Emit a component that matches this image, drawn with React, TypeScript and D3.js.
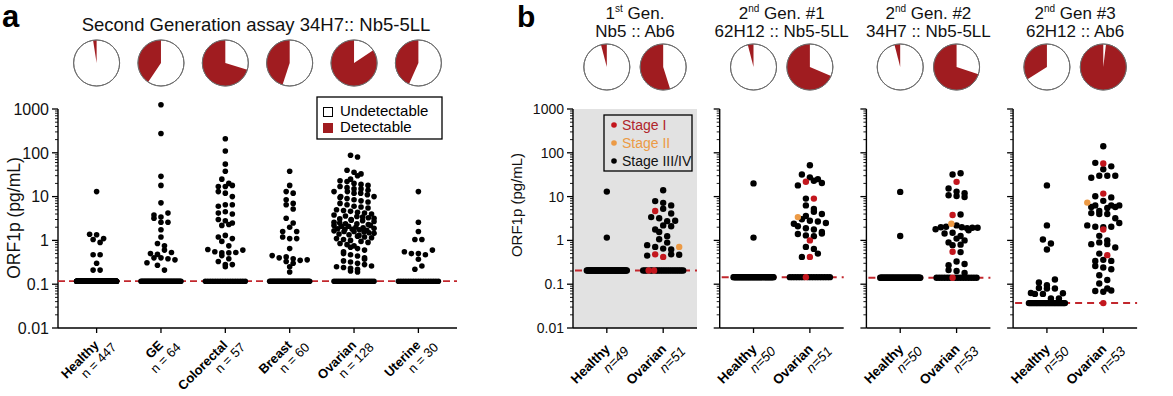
import React from "react";
import * as d3 from "d3";

const FONT = "'Liberation Sans', Arial, Helvetica, sans-serif";
const DARK_RED = "#a01c20";
const STAGE1 = "#c3161d";
const STAGE2 = "#ec9a45";
const LOD_COLOR = "#c2272d";
const GRAY_BG = "#e2e2e2";

// ---------- Panel a data ----------
const catsA = ["Healthy", "GE", "Colorectal", "Breast", "Ovarian", "Uterine"];
const nA = [447, 64, 57, 60, 128, 30];
const lodA = 0.117;
const healthyA = [13, 1.38, 1.35, 1.1, 1.05, 0.9, 0.47, 0.47, 0.3, 0.21, 0.21];
const geA = [1250, 275, 29, 18, 7.2, 4.2, 3.8, 3.4, 3.2, 2.6, 2.6, 1.75, 1.2, 0.85, 0.75, 0.6, 0.53, 0.5, 0.48, 0.4, 0.4, 0.38, 0.36, 0.31, 0.27, 0.21];
const colorectalA = [210, 110, 55, 38, 25, 20, 17, 17, 18, 13, 12, 10, 6, 6.5, 6.5, 4.5, 4, 4.2, 3, 2.8, 2.2, 2.3, 2.5, 1.2, 1.3, 1.1, 0.95, 0.75, 0.6, 0.62, 0.55, 0.52, 0.52, 0.53, 0.45, 0.38, 0.33, 0.28, 0.28, 0.25];
const breastA = [38, 18, 13, 12, 8.5, 7, 6.5, 5.2, 3.2, 2.5, 2, 1.6, 1.6, 1.2, 1.1, 1.1, 0.65, 0.45, 0.4, 0.42, 0.38, 0.35, 0.36, 0.33, 0.3, 0.25, 0.19];
const ovarianA = [
  88, 80, 40, 36, 33, 30,
  25, 23, 22, 20, 19, 18, 17, 16, 15, 15,
  14, 13, 13, 12, 12, 11, 10, 10, 9.5, 9, 8.5, 8,
  7.5, 7, 6.5, 6, 5.8, 5.5, 5, 4.8, 4.6, 4.4, 4.2, 4,
  3.8, 3.6, 3.5, 3.4, 3.3, 3.2, 3.1, 3, 2.9, 2.8, 2.7, 2.6, 2.5, 2.4, 2.4, 2.3, 2.2, 2.2, 2.1, 2.1, 2,
  1.95, 1.9, 1.85, 1.8, 1.8, 1.75, 1.7, 1.65, 1.6, 1.6, 1.55, 1.5, 1.45, 1.4, 1.35, 1.3, 1.25, 1.2, 1.15, 1.1, 1.05, 1.0,
  0.95, 0.9, 0.85, 0.8, 0.75, 0.7, 0.65, 0.6, 0.55, 0.5,
  0.47, 0.44, 0.4, 0.37, 0.34, 0.32, 0.3, 0.28, 0.26, 0.25, 0.24, 0.23, 0.22, 0.2, 0.19,
];
const uterineA = [13, 2.6, 1.6, 1.05, 1.05, 0.6, 0.55, 0.5, 0.5, 0.47, 0.37, 0.26, 0.22];
const detectA = [healthyA, geA, colorectalA, breastA, ovarianA, uterineA];

// ---------- Panel b data ----------
const assayOrd = ["1", "2", "2", "2"];
const assaySup = ["st", "nd", "nd", "nd"];
const assayRest = [" Gen.", " Gen. #1", " Gen. #2", " Gen #3"];
const assayPair = ["Nb5 :: Ab6", "62H12 :: Nb5-5LL", "34H7 :: Nb5-5LL", "62H12 :: Ab6"];
const lodB = [0.206, 0.145, 0.14, 0.037];
const healthyNB = [49, 50, 50, 50];
const ovarianNB = [51, 51, 53, 53];
const ovarianBaselineStageI = [2, 1, 1, 1];

const healthyB1 = [13, 1.16];
const ovB1StageI = [4.7, 0.48, 0.42];
const ovB1StageII = [0.71];
const ovB1StageIII = [14, 7.9, 7.2, 6.3, 5.3, 4.1, 3.4, 3.2, 2.75, 2.8, 2.2, 2.1, 1.78, 1.56, 1.25, 1.06, 0.89, 0.78, 0.71, 0.65, 0.62, 0.48, 0.47, 0.45];

const healthyB2 = [20, 1.16];
const ovB2StageI = [21.8, 9, 1.0, 0.42];
const ovB2StageII = [3.4];
const ovB2StageIII = [52, 32, 27.5, 25, 23, 20.5, 18, 9, 6.3, 5.2, 4.5, 4, 3.6, 3.05, 2.8, 2.7, 2.5, 2.4, 2.1, 1.9, 1.78, 1.56, 1.44, 1.4, 1.3, 1.25, 0.71, 0.64, 0.5, 0.42];

const healthyB3 = [12.8, 1.26];
const ovB3StageI = [21.7, 3.8, 0.55];
const ovB3StageII = [2.4];
const ovB3StageIII = [32, 34, 15.3, 13, 12, 9.8, 10.7, 10.3, 3.9, 2.0, 1.95, 1.95, 2.0, 2.05, 2.2, 1.9, 1.7, 1.8, 1.44, 1.5, 1.26, 1.1, 1.0, 0.9, 0.78, 0.8, 0.54, 0.33, 0.29, 0.27, 0.21, 0.2, 0.18];

const healthyB4 = [18, 2.2, 1.05, 0.85, 0.62, 0.128, 0.11, 0.095, 0.082, 0.08, 0.08, 0.062, 0.06, 0.063, 0.06, 0.047, 0.047];
const ovB4StageI = [57, 11.7, 1.78, 0.46];
const ovB4StageII = [7.3];
const ovB4StageIII = [141, 59, 49, 42, 30, 30, 27, 30, 10.2, 9.6, 8, 6.3, 5.8, 5.5, 6.3, 5.8, 6.3, 4.2, 4.7, 4.0, 4.0, 3.2, 2.5, 2.2, 2.05, 2.0, 2.05, 1.27, 1.0, 0.82, 0.9, 0.82, 0.69, 0.5, 0.34, 0.36, 0.34, 0.26, 0.24, 0.22, 0.16, 0.125, 0.104, 0.08, 0.067, 0.072, 0.07];

const healthyB = [healthyB1, healthyB2, healthyB3, healthyB4];
const ovStageI = [ovB1StageI, ovB2StageI, ovB3StageI, ovB4StageI];
const ovStageII = [ovB1StageII, ovB2StageII, ovB3StageII, ovB4StageII];
const ovStageIII = [ovB1StageIII, ovB2StageIII, ovB3StageIII, ovB4StageIII];

const yTickValues = [0.01, 0.1, 1, 10, 100, 1000];
const yTickLabels = ["0.01", "0.1", "1", "10", "100", "1000"];

type Item = { v: number; fill: string };
type Pt = { x: number; y: number; fill: string };

function swarm(items: Item[], y: (v: number) => number, cx: number, diam: number, maxHalf: number): Pt[] {
  const pts = items.map((d, i) => ({ ...d, i, py: y(d.v) })).sort((a, b) => a.py - b.py);
  const rows: typeof pts[] = [];
  let cur: typeof pts = [];
  let start = -Infinity;
  for (const p of pts) {
    if (cur.length && p.py - start < diam * 0.9) cur.push(p);
    else {
      if (cur.length) rows.push(cur);
      cur = [p];
      start = p.py;
    }
  }
  if (cur.length) rows.push(cur);
  const out: Pt[] = [];
  for (const row of rows) {
    const k = row.length;
    row.sort((a, b) => ((a.i * 37) % 17) - ((b.i * 37) % 17));
    const spacing = k > 1 ? Math.min(diam * 1.25, (2 * maxHalf) / (k - 1)) : 0;
    row.forEach((p, j) => out.push({ x: cx + (j - (k - 1) / 2) * spacing, y: p.py, fill: p.fill }));
  }
  return out;
}

function baseline(m: number, colored: number, firstFrac: number, color: string, lodY: number, cx: number, maxHalf: number): Pt[] {
  const out: Pt[] = [];
  const step = m > 1 ? (2 * maxHalf) / (m - 1) : 0;
  const coloredIdx = new Set<number>();
  for (let c = 0; c < colored; c++) coloredIdx.add(Math.floor((m - 1) * (firstFrac + c * 0.13)));
  for (let i = 0; i < m; i++) {
    out.push({ x: m > 1 ? cx - maxHalf + i * step : cx, y: lodY, fill: coloredIdx.has(i) ? color : "#000" });
  }
  return out;
}

function YAxis({ x, y, labels, fontSize }: { x: number; y: d3.ScaleLogarithmic<number, number>; labels: boolean; fontSize: number }) {
  const ticks = y.ticks();
  return (
    <g>
      <line x1={x} x2={x} y1={y(1000)} y2={y(0.01)} stroke="#000" strokeWidth={1.4} />
      {ticks.map((t, i) => {
        const lg = Math.log10(t);
        const major = Math.abs(lg - Math.round(lg)) < 1e-6;
        return (
          <line key={i} x1={x - (major ? 6 : 3)} x2={x} y1={y(t)} y2={y(t)} stroke="#000" strokeWidth={major ? 1.3 : 0.9} />
        );
      })}
      {labels &&
        yTickValues.map((t, i) => (
          <text key={"l" + i} x={x - 9} y={y(t)} dy="0.36em" textAnchor="end" fontSize={fontSize} fill="#111">
            {yTickLabels[i]}
          </text>
        ))}
    </g>
  );
}

function Pie({ cx, cy, r, frac }: { cx: number; cy: number; r: number; frac: number }) {
  const arc = d3.arc<any>();
  const path = arc({ innerRadius: 0, outerRadius: r, startAngle: -2 * Math.PI * frac, endAngle: 0 }) || "";
  return (
    <g transform={`translate(${cx},${cy})`}>
      <circle r={r} fill="#fff" stroke="#6e6e6e" strokeWidth={1} />
      <path d={path} fill={DARK_RED} />
      <circle r={r} fill="none" stroke="#6e6e6e" strokeWidth={1} />
    </g>
  );
}

function Dots({ pts, r }: { pts: Pt[]; r: number }) {
  const black = pts.filter((p) => p.fill === "#000");
  const col = pts.filter((p) => p.fill !== "#000");
  return (
    <g>
      {black.map((p, i) => (
        <circle key={"b" + i} cx={p.x} cy={p.y} r={r} fill={p.fill} />
      ))}
      {col.map((p, i) => (
        <circle key={"c" + i} cx={p.x} cy={p.y} r={r} fill={p.fill} />
      ))}
    </g>
  );
}

function PanelA() {
  const y = d3.scaleLog().domain([0.01, 1000]).range([328, 109]);
  const x = d3.scalePoint<string>().domain(catsA).range([58, 457]).padding(0.6);
  const r = 2.8;
  return (
    <g>
      <text x={2} y={27} fontSize={31} fontWeight="bold">a</text>
      <text x={256} y={31} fontSize={18.5} textAnchor="middle" fill="#111">Second Generation assay 34H7:: Nb5-5LL</text>
      {catsA.map((c, i) => (
        <Pie key={c} cx={x(c)!} cy={63} r={23} frac={detectA[i].length / nA[i]} />
      ))}
      <text transform={`translate(20,218) rotate(-90)`} textAnchor="middle" fontSize={17.5} fill="#111">ORF1p (pg/mL)</text>
      <YAxis x={58} y={y} labels={true} fontSize={16} />
      <line x1={58} x2={457} y1={328} y2={328} stroke="#000" strokeWidth={1.4} />
      {catsA.map((c) => (
        <line key={"t" + c} x1={x(c)!} x2={x(c)!} y1={328} y2={333} stroke="#000" strokeWidth={1.3} />
      ))}
      <line x1={58} x2={457} y1={y(lodA)} y2={y(lodA)} stroke={LOD_COLOR} strokeWidth={1.8} strokeDasharray="7,4" />
      {catsA.map((c, i) => {
        const cx = x(c)!;
        const items = detectA[i].map((v) => ({ v, fill: "#000" }));
        const pts = [...baseline(nA[i] - detectA[i].length, 0, 0, "#000", y(lodA), cx, 20), ...swarm(items, y, cx, 2 * r, 20)];
        return <Dots key={"d" + c} pts={pts} r={r} />;
      })}
      {catsA.map((c, i) => (
        <g key={"xl" + c} transform={`translate(${x(c)! + 3},${346}) rotate(-45)`}>
          <text textAnchor="end" fontSize={13} fontWeight="bold">{c}</text>
          <text textAnchor="end" x={11} y={14} fontSize={13}>{`n = ${nA[i]}`}</text>
        </g>
      ))}
      <rect x={317} y={97} width={125} height={42} fill="#fff" stroke="#000" strokeWidth={1.3} />
      <rect x={323.5} y={107.5} width={9} height={9} fill="#fff" stroke="#000" strokeWidth={1} />
      <text x={340} y={116} fontSize={15}>Undetectable</text>
      <rect x={323} y={123} width={10} height={10} fill={DARK_RED} />
      <text x={340} y={132} fontSize={15}>Detectable</text>
    </g>
  );
}

function PanelB() {
  const y = d3.scaleLog().domain([0.01, 1000]).range([328, 109]);
  const r = 3.2;
  const groups = ["Healthy", "Ovarian"];
  return (
    <g>
      <text x={517} y={27} fontSize={30} fontWeight="bold">b</text>
      <text transform={`translate(522,205) rotate(-90)`} textAnchor="middle" fontSize={15} fill="#111">ORF1p (pg/mL)</text>
      {assayPair.map((pair, i) => {
        const x0 = 573 + i * 146.7;
        const x = d3.scalePoint<string>().domain(groups).range([x0, x0 + 124]).padding(0.6);
        const hx = x("Healthy")!;
        const ox = x("Ovarian")!;
        const lodY = y(lodB[i]);
        const hItems = healthyB[i].map((v) => ({ v, fill: "#000" }));
        const oItems = [
          ...ovStageIII[i].map((v) => ({ v, fill: "#000" })),
          ...ovStageI[i].map((v) => ({ v, fill: STAGE1 })),
          ...ovStageII[i].map((v) => ({ v, fill: STAGE2 })),
        ];
        const oDet = oItems.length;
        const hPts = [...baseline(healthyNB[i] - healthyB[i].length, 0, 0, "#000", lodY, hx, i === 3 ? 18 : 20), ...swarm(hItems, y, hx, 2 * r, 20)];
        const oPts = [...baseline(ovarianNB[i] - oDet, ovarianBaselineStageI[i], i === 0 ? 0.18 : 0.4, STAGE1, lodY, ox, 20), ...swarm(oItems, y, ox, 2 * r, 21)];
        const hFrac = healthyB[i].length / healthyNB[i];
        const oFrac = oDet / ovarianNB[i];
        const cx = (hx + ox) / 2;
        return (
          <g key={pair}>
            <text x={cx} y={19} fontSize={17} textAnchor="middle" fill="#111">
              <tspan>{assayOrd[i]}</tspan>
              <tspan fontSize={10} dy={-7}>{assaySup[i]}</tspan>
              <tspan dy={7}>{assayRest[i]}</tspan>
            </text>
            <text x={cx} y={37} fontSize={17} textAnchor="middle" fill="#111">{pair}</text>
            <Pie cx={hx} cy={67} r={23} frac={hFrac} />
            <Pie cx={ox} cy={67} r={23} frac={oFrac} />
            {i === 0 && <rect x={x0} y={109} width={124} height={219} fill={GRAY_BG} />}
            <YAxis x={x0} y={y} labels={i === 0} fontSize={14} />
            <line x1={x0} x2={x0 + 124} y1={328} y2={328} stroke="#000" strokeWidth={1.4} />
            {groups.map((g) => (
              <line key={g} x1={x(g)!} x2={x(g)!} y1={328} y2={333} stroke="#000" strokeWidth={1.3} />
            ))}
            <line x1={x0 + 2} x2={x0 + 124} y1={lodY} y2={lodY} stroke={LOD_COLOR} strokeWidth={2} strokeDasharray="7,5" />
            <Dots pts={hPts} r={r} />
            <Dots pts={oPts} r={r} />
            <g transform={`translate(${hx + 4},${350}) rotate(-45)`}>
              <text textAnchor="end" fontSize={13.5} fontWeight="bold">Healthy</text>
              <text textAnchor="end" x={12} y={15} fontSize={13.5} fontStyle="italic">{`n=${healthyNB[i]}`}</text>
            </g>
            <g transform={`translate(${ox + 4},${350}) rotate(-45)`}>
              <text textAnchor="end" fontSize={13.5} fontWeight="bold">Ovarian</text>
              <text textAnchor="end" x={12} y={15} fontSize={13.5} fontStyle="italic">{`n=${ovarianNB[i]}`}</text>
            </g>
            {i === 0 && (
              <g>
                <rect x={x0 + 31} y={115} width={88} height={56} fill="none" stroke="#000" strokeWidth={1.3} />
                <circle cx={x0 + 41} cy={125} r={2.8} fill={STAGE1} />
                <text x={x0 + 49} y={130} fontSize={14} fill="#b0242a">Stage I</text>
                <circle cx={x0 + 41} cy={143} r={2.8} fill={STAGE2} />
                <text x={x0 + 49} y={148} fontSize={14} fill={STAGE2}>Stage II</text>
                <circle cx={x0 + 41} cy={161} r={2.8} fill="#000" />
                <text x={x0 + 49} y={166} fontSize={14} fill="#111">Stage III/IV</text>
              </g>
            )}
          </g>
        );
      })}
    </g>
  );
}

export default function App() {
  return (
    <svg width={1173} height={396} style={{ position: "fixed", left: 0, top: 0 }} fontFamily={FONT}>
      <rect width={1173} height={396} fill="#fff" />
      <PanelA />
      <PanelB />
    </svg>
  );
}
